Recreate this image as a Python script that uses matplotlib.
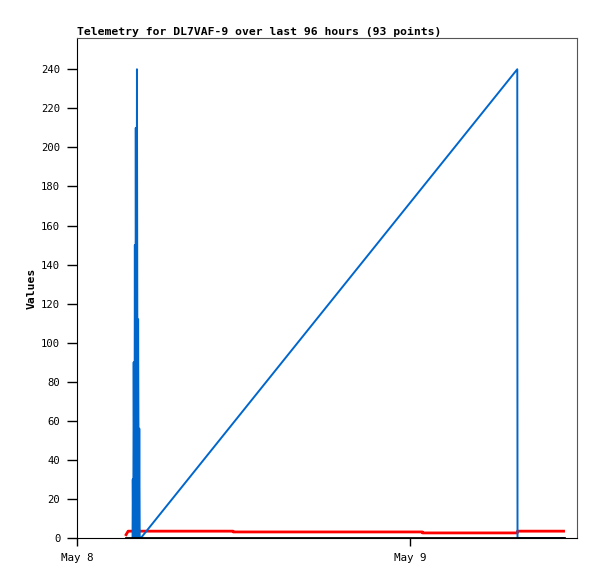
import datetime as dt
import matplotlib
matplotlib.use("Agg")
import matplotlib.pyplot as plt
import matplotlib.dates as mdates

# blue series (spiky counter, then one long ramp)
blue_times = ["2024-05-08 04:00", "2024-05-08 04:01", "2024-05-08 04:03", "2024-05-08 04:05",
              "2024-05-08 04:08", "2024-05-08 04:10", "2024-05-08 04:12", "2024-05-08 04:14",
              "2024-05-08 04:17", "2024-05-08 04:19", "2024-05-08 04:22", "2024-05-08 04:24",
              "2024-05-08 04:27", "2024-05-08 04:29", "2024-05-08 04:31", "2024-05-08 04:36",
              "2024-05-09 07:42", "2024-05-09 07:43", "2024-05-09 11:02"]
blue_vals = [0, 30, 0, 90, 0, 150, 0, 210, 0, 240, 0, 112, 0, 56, 0, 0, 240, 0, 0]

# red series (small, slowly stepping)
red_times = ["2024-05-08 03:32", "2024-05-08 03:41", "2024-05-08 11:14", "2024-05-08 11:15",
             "2024-05-09 00:52", "2024-05-09 00:53", "2024-05-09 07:42", "2024-05-09 07:43",
             "2024-05-09 11:02"]
red_vals = [1.7, 3.5, 3.5, 3.1, 3.1, 2.6, 2.6, 3.5, 3.5]

# black series (flat zero)
black_times = ["2024-05-08 03:32", "2024-05-09 11:02"]
black_vals = [0, 0]

x_start = "2024-05-08 00:00"
x_end = "2024-05-09 12:00"
y_ticks = list(range(0, 241, 20))

def to_dt(lst):
    return [dt.datetime.strptime(s, "%Y-%m-%d %H:%M") for s in lst]

plt.rcParams['font.family'] = ['DejaVu Sans Mono']
fig = plt.figure(figsize=(5.97, 5.79), dpi=100)
ax = fig.add_axes([77/597, 41/579, 500/597, 500/579])

ax.plot(to_dt(red_times), red_vals, color='#ff0000', lw=2.0)
ax.plot(to_dt(blue_times), blue_vals, color='#0066cc', lw=1.4)
ax.plot(to_dt(black_times), black_vals, color='black', lw=2.0)

ax.set_xlim(to_dt([x_start])[0], to_dt([x_end])[0])
ax.set_ylim(0, 256)
ax.set_yticks(y_ticks)
ax.xaxis.set_major_locator(mdates.DayLocator())
ax.xaxis.set_major_formatter(mdates.DateFormatter('%b %-d'))

ax.tick_params(axis='y', length=7, width=1, labelsize=7.6, pad=5)
ax.tick_params(axis='x', length=6, width=1, labelsize=7.8, pad=5)
for s in ['top', 'right']:
    ax.spines[s].set_color('#555555')
for s in ['left', 'bottom']:
    ax.spines[s].set_color('black')

ax.set_title("Telemetry for DL7VAF-9 over last 96 hours (93 points)", loc='left',
             fontsize=8.2, fontweight='bold', pad=2)
ax.set_ylabel("Values", fontsize=8.2, fontweight='bold', labelpad=3)

fig.savefig("out.png", dpi=100)
